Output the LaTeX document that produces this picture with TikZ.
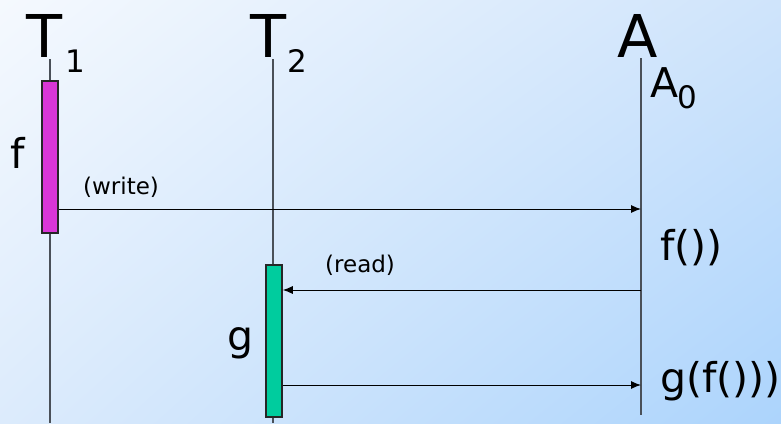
\documentclass[tikz,border=0pt]{standalone}
\usepackage{fontspec}
\setmainfont{DejaVu Sans}
\usetikzlibrary{arrows.meta,shadings}
\definecolor{bgA}{HTML}{F5F9FE}
\definecolor{bgB}{HTML}{CFE4FB}
\definecolor{bgC}{HTML}{DCEBFC}
\definecolor{bgD}{HTML}{ACD4FC}
\definecolor{lifegray}{HTML}{4A5058}
\definecolor{actf}{HTML}{D936D6}
\definecolor{actg}{HTML}{00CC9E}
\tikzset{
  lifeline/.style={draw=lifegray, line width=2pt},
  actbar/.style={draw=black!85, line width=1.5pt, minimum width=16pt, inner sep=0pt, rectangle},
  msg/.style={draw=black, line width=1pt, -{Latex[length=10pt,width=8pt]}},
  lbl/.style={inner sep=0pt, anchor=base west},
  big/.style={lbl, font=\fontsize{59}{60}\selectfont},
  mid/.style={lbl, font=\fontsize{41}{42}\selectfont},
  sub/.style={lbl, font=\fontsize{31}{32}\selectfont},
  small/.style={lbl, font=\fontsize{23}{24}\selectfont}
}
\begin{document}
\begin{tikzpicture}[x=1pt, y=-1pt]
  \useasboundingbox (0,0) rectangle (781,423);
  \shade[upper left=bgA, upper right=bgB, lower left=bgC, lower right=bgD] (0,0) rectangle (781,423);

  % lifeline ends
  \coordinate (t1top) at (50,59);
  \coordinate (t1bot) at (50,423);
  \coordinate (t2top) at (273,59);
  \coordinate (t2bot) at (273,423);
  \coordinate (atop) at (641,58);
  \coordinate (abot) at (641,415);

  \draw[lifeline] (t1top) -- (t1bot);
  \draw[lifeline] (t2top) -- (t2bot);
  \draw[lifeline] (atop) -- (abot);

  % activation bars
  \node[actbar, fill=actf, minimum height=152pt] (fbar) at (50,157) {};
  \node[actbar, fill=actg, minimum height=152pt] (gbar) at (274,341) {};

  % points on the lifeline of A
  \coordinate (aw) at (641,209);
  \coordinate (ar) at (641,290);
  \coordinate (ag) at (641,385);

  % messages
  \draw[msg] (fbar.east |- aw) -- (aw);
  \draw[msg] (ar) -- (gbar.east |- ar);
  \draw[msg] (gbar.east |- ag) -- (ag);

  % headings
  \node[big] (T1) at (26,57) {T};
  \node[sub] (T1s) at (65,72) {1};
  \node[big] (T2) at (250,57) {T};
  \node[sub] (T2s) at (287,72) {2};
  \node[big] (A) at (617,57) {A};
  \node[mid] (A0) at (650,97) {A};
  \node[sub] (A0s) at (677,108) {0};

  % labels
  \node[mid] (flbl) at (10,168) {f};
  \node[mid] (glbl) at (227,350) {g};
  \node[small] (wlbl) at (83,194) {(write)};
  \node[small] (rlbl) at (325,272) {(read)};
  \node[mid] (fval) at (660,260) {f())};
  \node[mid] (gval) at (660,392) {g(f()))};
\end{tikzpicture}
\end{document}
